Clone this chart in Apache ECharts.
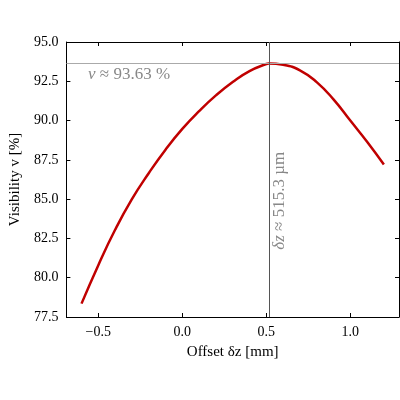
<!DOCTYPE html>
<html><head><meta charset="utf-8">
<script src="https://cdn.jsdelivr.net/npm/echarts@6/dist/echarts.min.js"></script>
<style>body{margin:0}#c{width:400px;height:400px}</style></head>
<body><div id="c"></div>
<script>
const offsets = [-0.6, -0.5, -0.4, -0.3, -0.2, -0.1, 0.0, 0.1, 0.2, 0.3, 0.4, 0.5, 0.515, 0.6, 0.7, 0.8, 0.9, 1.0, 1.1, 1.2];
const visibility = [78.35, 80.8, 83.05, 85.0, 86.65, 88.15, 89.47, 90.6, 91.6, 92.45, 93.15, 93.6, 93.63, 93.55, 93.2, 92.45, 91.35, 90.0, 88.65, 87.2];
const peakX = 0.515, peakY = 93.63;
const xTicks = [-0.5, 0, 0.5, 1.0];
const F = '"Liberation Serif", "DejaVu Serif", serif';
const chart = echarts.init(document.getElementById('c'));
const fmt = v => v < 0 ? '\u2212' + Math.abs(v).toFixed(1) : v.toFixed(1);
const line = {show: true, onZero: false, lineStyle: {color: '#000', width: 1}};
const tick = {show: true, inside: true, length: 4, lineStyle: {color: '#000'}};
const nameStyle = {fontFamily: F, fontSize: 15, color: '#000'};
chart.setOption({
  animation: false,
  grid: {left: 62, right: 1, top: 42, bottom: 83},
  xAxis: [
    {type: 'value', position: 'bottom', min: -0.69, max: 1.29, name: 'Offset δz [mm]',
      nameLocation: 'middle', nameGap: 28, nameTextStyle: nameStyle, axisLine: line,
      axisTick: Object.assign({customValues: xTicks}, tick),
      axisLabel: {color: '#000', fontFamily: F, fontSize: 14, formatter: fmt, customValues: xTicks},
      splitLine: {show: false}},
    {type: 'value', position: 'top', min: -0.69, max: 1.29, axisLine: line,
      axisTick: Object.assign({customValues: xTicks}, tick), axisLabel: {show: false}, splitLine: {show: false}}
  ],
  yAxis: [
    {type: 'value', position: 'left', min: 77.5, max: 95, interval: 2.5, name: 'Visibility v [%]',
      nameLocation: 'middle', nameGap: 42, nameTextStyle: nameStyle, axisLine: line, axisTick: tick,
      axisLabel: {color: '#000', fontFamily: F, fontSize: 14, formatter: fmt}, splitLine: {show: false}},
    {type: 'value', position: 'right', min: 77.5, max: 95, interval: 2.5, axisLine: line, axisTick: tick,
      axisLabel: {show: false}, splitLine: {show: false}}
  ],
  series: [
    {type: 'line', data: offsets.map((x, i) => [x, visibility[i]]), smooth: true, showSymbol: false,
      lineStyle: {color: '#c00000', width: 2.5}, z: 3},
    {type: 'line', data: [], markLine: {symbol: 'none', silent: true, label: {show: false}, animation: false,
      data: [
        {yAxis: peakY, lineStyle: {color: '#aaaaaa', width: 1, type: 'solid'}},
        {xAxis: peakX, lineStyle: {color: '#555555', width: 1, type: 'solid'}}
      ]}}
  ]
});
const pH = chart.convertToPixel({gridIndex: 0}, [-0.69, peakY]);
const pV = chart.convertToPixel({gridIndex: 0}, [peakX, 84.9]);
chart.setOption({graphic: [
  {type: 'text', left: 88, top: pH[1] + 3, style: {text: '{i|v} ≈ 93.63 %', fill: '#888',
    font: '17px ' + F, rich: {i: {fontStyle: 'italic', fontFamily: F, fontSize: 17, fill: '#888'}}}},
  {type: 'text', x: pV[0] + 11, y: pV[1], rotation: Math.PI / 2,
    style: {text: '{i|δz} ≈ 515.3 µm', fill: '#888', font: '17px ' + F, align: 'center', verticalAlign: 'middle',
      rich: {i: {fontStyle: 'italic', fontFamily: F, fontSize: 17, fill: '#888'}}}}
]});
</script></body></html>
